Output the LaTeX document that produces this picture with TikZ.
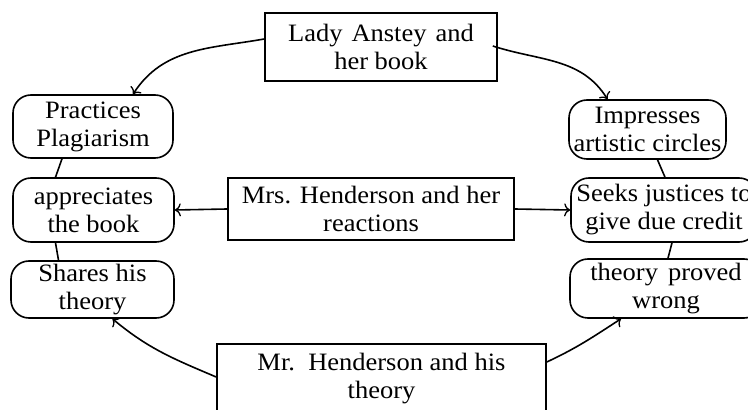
\documentclass[tikz,border=0pt]{standalone}
\usepackage{fontspec}
\setmainfont{Liberation Serif}[FakeStretch=1.06]
\usetikzlibrary{arrows.meta}
\begin{document}
\begin{tikzpicture}[x=1pt,y=1pt,
  every node/.style={font=\fontsize{25}{28}\selectfont, align=center, inner sep=0pt},
  sqbox/.style={draw, line width=1.6pt, rectangle},
  rbox/.style={draw, line width=1.6pt, rectangle, rounded corners=18pt},
  conn/.style={line width=1.6pt},
  arr/.style={conn, -{To[length=6pt,width=13pt,line width=1.3pt]}}]
\useasboundingbox (0,0) rectangle (748,410);
\clip (0,0) rectangle (748,410);
% boxes (tikz y = 410 - pixel y)
\node[sqbox, minimum width=232pt, minimum height=68pt] (lady) at (381,363) {Lady\hspace{9pt}Anstey\hspace{9pt}and\\her book};
\node[rbox, minimum width=160pt, minimum height=63pt] (prac) at (93,283.5) {Practices\\Plagiarism};
\node[rbox, minimum width=157pt, minimum height=59pt] (imp) at (647.5,280.5) {Impresses\\artistic circles};
\node[sqbox, minimum width=286pt, minimum height=62pt] (mrs) at (371,201) {Mrs. Henderson and her\\reactions};
\node[rbox, minimum width=161pt, minimum height=64pt] (appr) at (93.5,200) {appreciates\\the book};
\node[rbox, minimum width=186pt, minimum height=64pt] (seeks) at (664,200) {Seeks justices to\\give due credit};
\node[rbox, minimum width=163pt, minimum height=57pt] (shares) at (92.5,120.5) {Shares his\\theory};
\node[rbox, minimum width=192pt, minimum height=59pt] (wrong) at (666,121.5) {theory\hspace{10pt}proved\\wrong};
\node[sqbox, minimum width=329pt, minimum height=70pt] (mr) at (381.5,31) {Mr.\ \ Henderson and his\\theory};
% curved arrows
\draw[arr] ([yshift=8pt]lady.west) to[out=190,in=57] ([xshift=40pt]prac.north);
\draw[arr] ([yshift=1pt,xshift=-5pt]lady.east) to[out=-18,in=122] ([xshift=-40pt]imp.north);
\draw[arr] ([yshift=2pt]mr.west) to[out=157,in=-40] ([xshift=20pt]shares.south);
\draw[arr] ([yshift=17pt]mr.east) to[out=25,in=213] ([xshift=-45pt]wrong.south);
% straight arrows
\draw[arr] (mrs.west) -- (appr.east);
\draw[arr] (mrs.east) -- (seeks.west);
% plain links
\draw[conn] ([xshift=-31pt]prac.south) -- ([xshift=-38pt]appr.north);
\draw[conn] ([xshift=-38pt]appr.south) -- ([xshift=-34pt]shares.north);
\draw[conn] ([xshift=10pt]imp.south) -- ([xshift=1pt]seeks.north);
\draw[conn] ([xshift=8pt]seeks.south) -- ([xshift=2pt]wrong.north);
\end{tikzpicture}
\end{document}
